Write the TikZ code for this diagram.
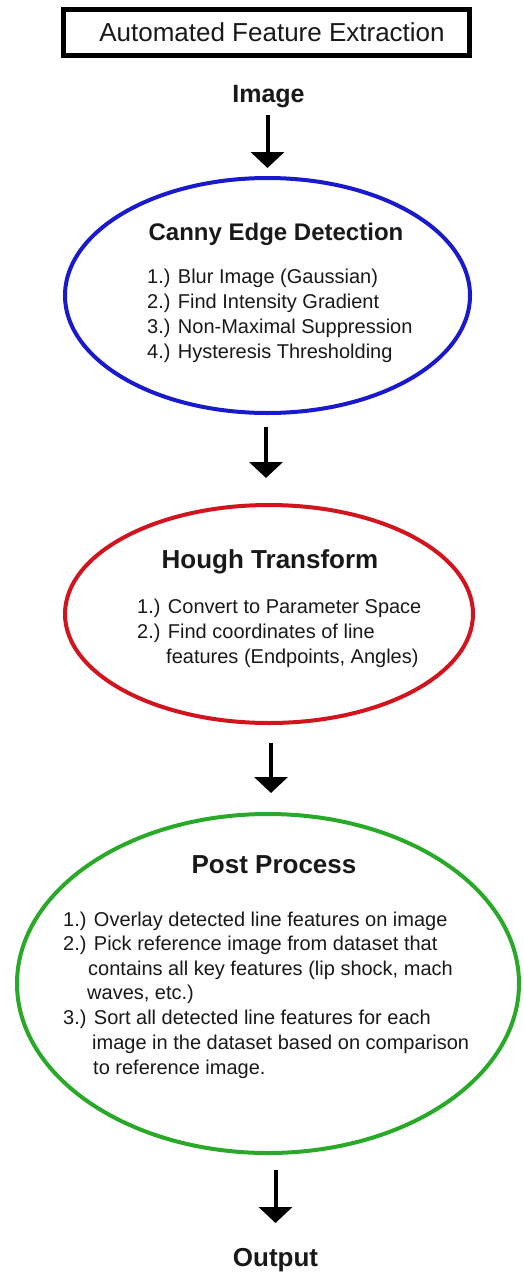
\documentclass[tikz,border=0pt]{standalone}
\usepackage{fontspec}
\setmainfont{Liberation Sans}
\usetikzlibrary{shapes.geometric,arrows.meta}
\definecolor{cblue}{RGB}{25,25,205}
\definecolor{cred}{RGB}{210,20,30}
\definecolor{cgreen}{RGB}{40,170,40}
\definecolor{ctext}{RGB}{25,25,25}
\begin{document}
\begin{tikzpicture}[x=1pt,y=-1pt,
  hdr/.style={font=\fontsize{25}{30}\selectfont\bfseries, text=ctext, inner sep=0pt, anchor=base},
  item/.style={font=\fontsize{20}{25}\selectfont, text=ctext, inner sep=0pt, anchor=base west},
  stage/.style={ellipse, draw, line width=4pt, inner sep=0pt, outer sep=0pt},
  arr/.style={line width=4pt, -{Triangle[width=33pt,length=16pt]}}]
\useasboundingbox[fill=white] (0,0) rectangle (524,1272);

% title
\node[draw, line width=5pt, minimum width=406pt, minimum height=46pt, inner sep=0pt,
      font=\fontsize{26}{30}\selectfont, text=ctext] (title) at (266.5,32.5) {\hspace*{11pt}Automated Feature Extraction};

\node[hdr] (img) at (268.5,102) {Image};

% Canny
\node[stage, draw=cblue, minimum width=405pt, minimum height=235pt] (canny) at (267.5,295.5) {};
\node[hdr, font=\fontsize{24}{30}\selectfont\bfseries] (cannyt) at (276,240) {Canny Edge Detection};
\node[item] (c1) at (147,283) {1.) Blur Image (Gaussian)};
\node[item] (c2) at (147,308) {2.) Find Intensity Gradient};
\node[item] (c3) at (147,333) {3.) Non-Maximal Suppression};
\node[item] (c4) at (147,358) {4.) Hysteresis Thresholding};

% Hough
\node[stage, draw=cred, minimum width=408pt, minimum height=218pt] (hough) at (269,614) {};
\node[hdr, font=\fontsize{26}{30}\selectfont\bfseries] (hought) at (270,568) {Hough Transform};
\node[item] (h1) at (137,613) {1.) Convert to Parameter Space};
\node[item] (h2) at (137,638) {2.) Find coordinates of line};
\node[item] (h3) at (166,663) {features (Endpoints, Angles)};

% Post process
\node[stage, draw=cgreen, minimum width=502pt, minimum height=339pt] (post) at (268,983.5) {};
\node[hdr, font=\fontsize{26}{30}\selectfont\bfseries] (postt) at (274,873) {Post Process};
\node[item] (p1) at (63,926) {1.) Overlay detected line features on image};
\node[item] (p2) at (63,950) {2.) Pick reference image from dataset that};
\node[item] (p3) at (88,975) {contains all key features (lip shock, mach};
\node[item] (p4) at (87,999) {waves, etc.)};
\node[item] (p5) at (63,1024) {3.) Sort all detected line features for each};
\node[item] (p6) at (92,1049) {image in the dataset based on comparison};
\node[item] (p7) at (93,1074) {to reference image.};

\node[hdr, font=\fontsize{26}{30}\selectfont\bfseries] (out) at (275.5,1266) {Output};

% arrows
\draw[arr] ([xshift=-1pt,yshift=-13pt]img.base) -- ([yshift=10pt]canny.north);
\draw[arr] ([xshift=-1.5pt,yshift=-14pt]canny.south) -- ([xshift=-3pt,yshift=27pt]hough.north);
\draw[arr] ([xshift=2pt,yshift=-20pt]hough.south) -- ([xshift=3pt,yshift=21pt]post.north);
\draw[arr] ([xshift=7.5pt,yshift=-17pt]post.south) -- ([yshift=43pt]out.base);
\end{tikzpicture}
\end{document}
